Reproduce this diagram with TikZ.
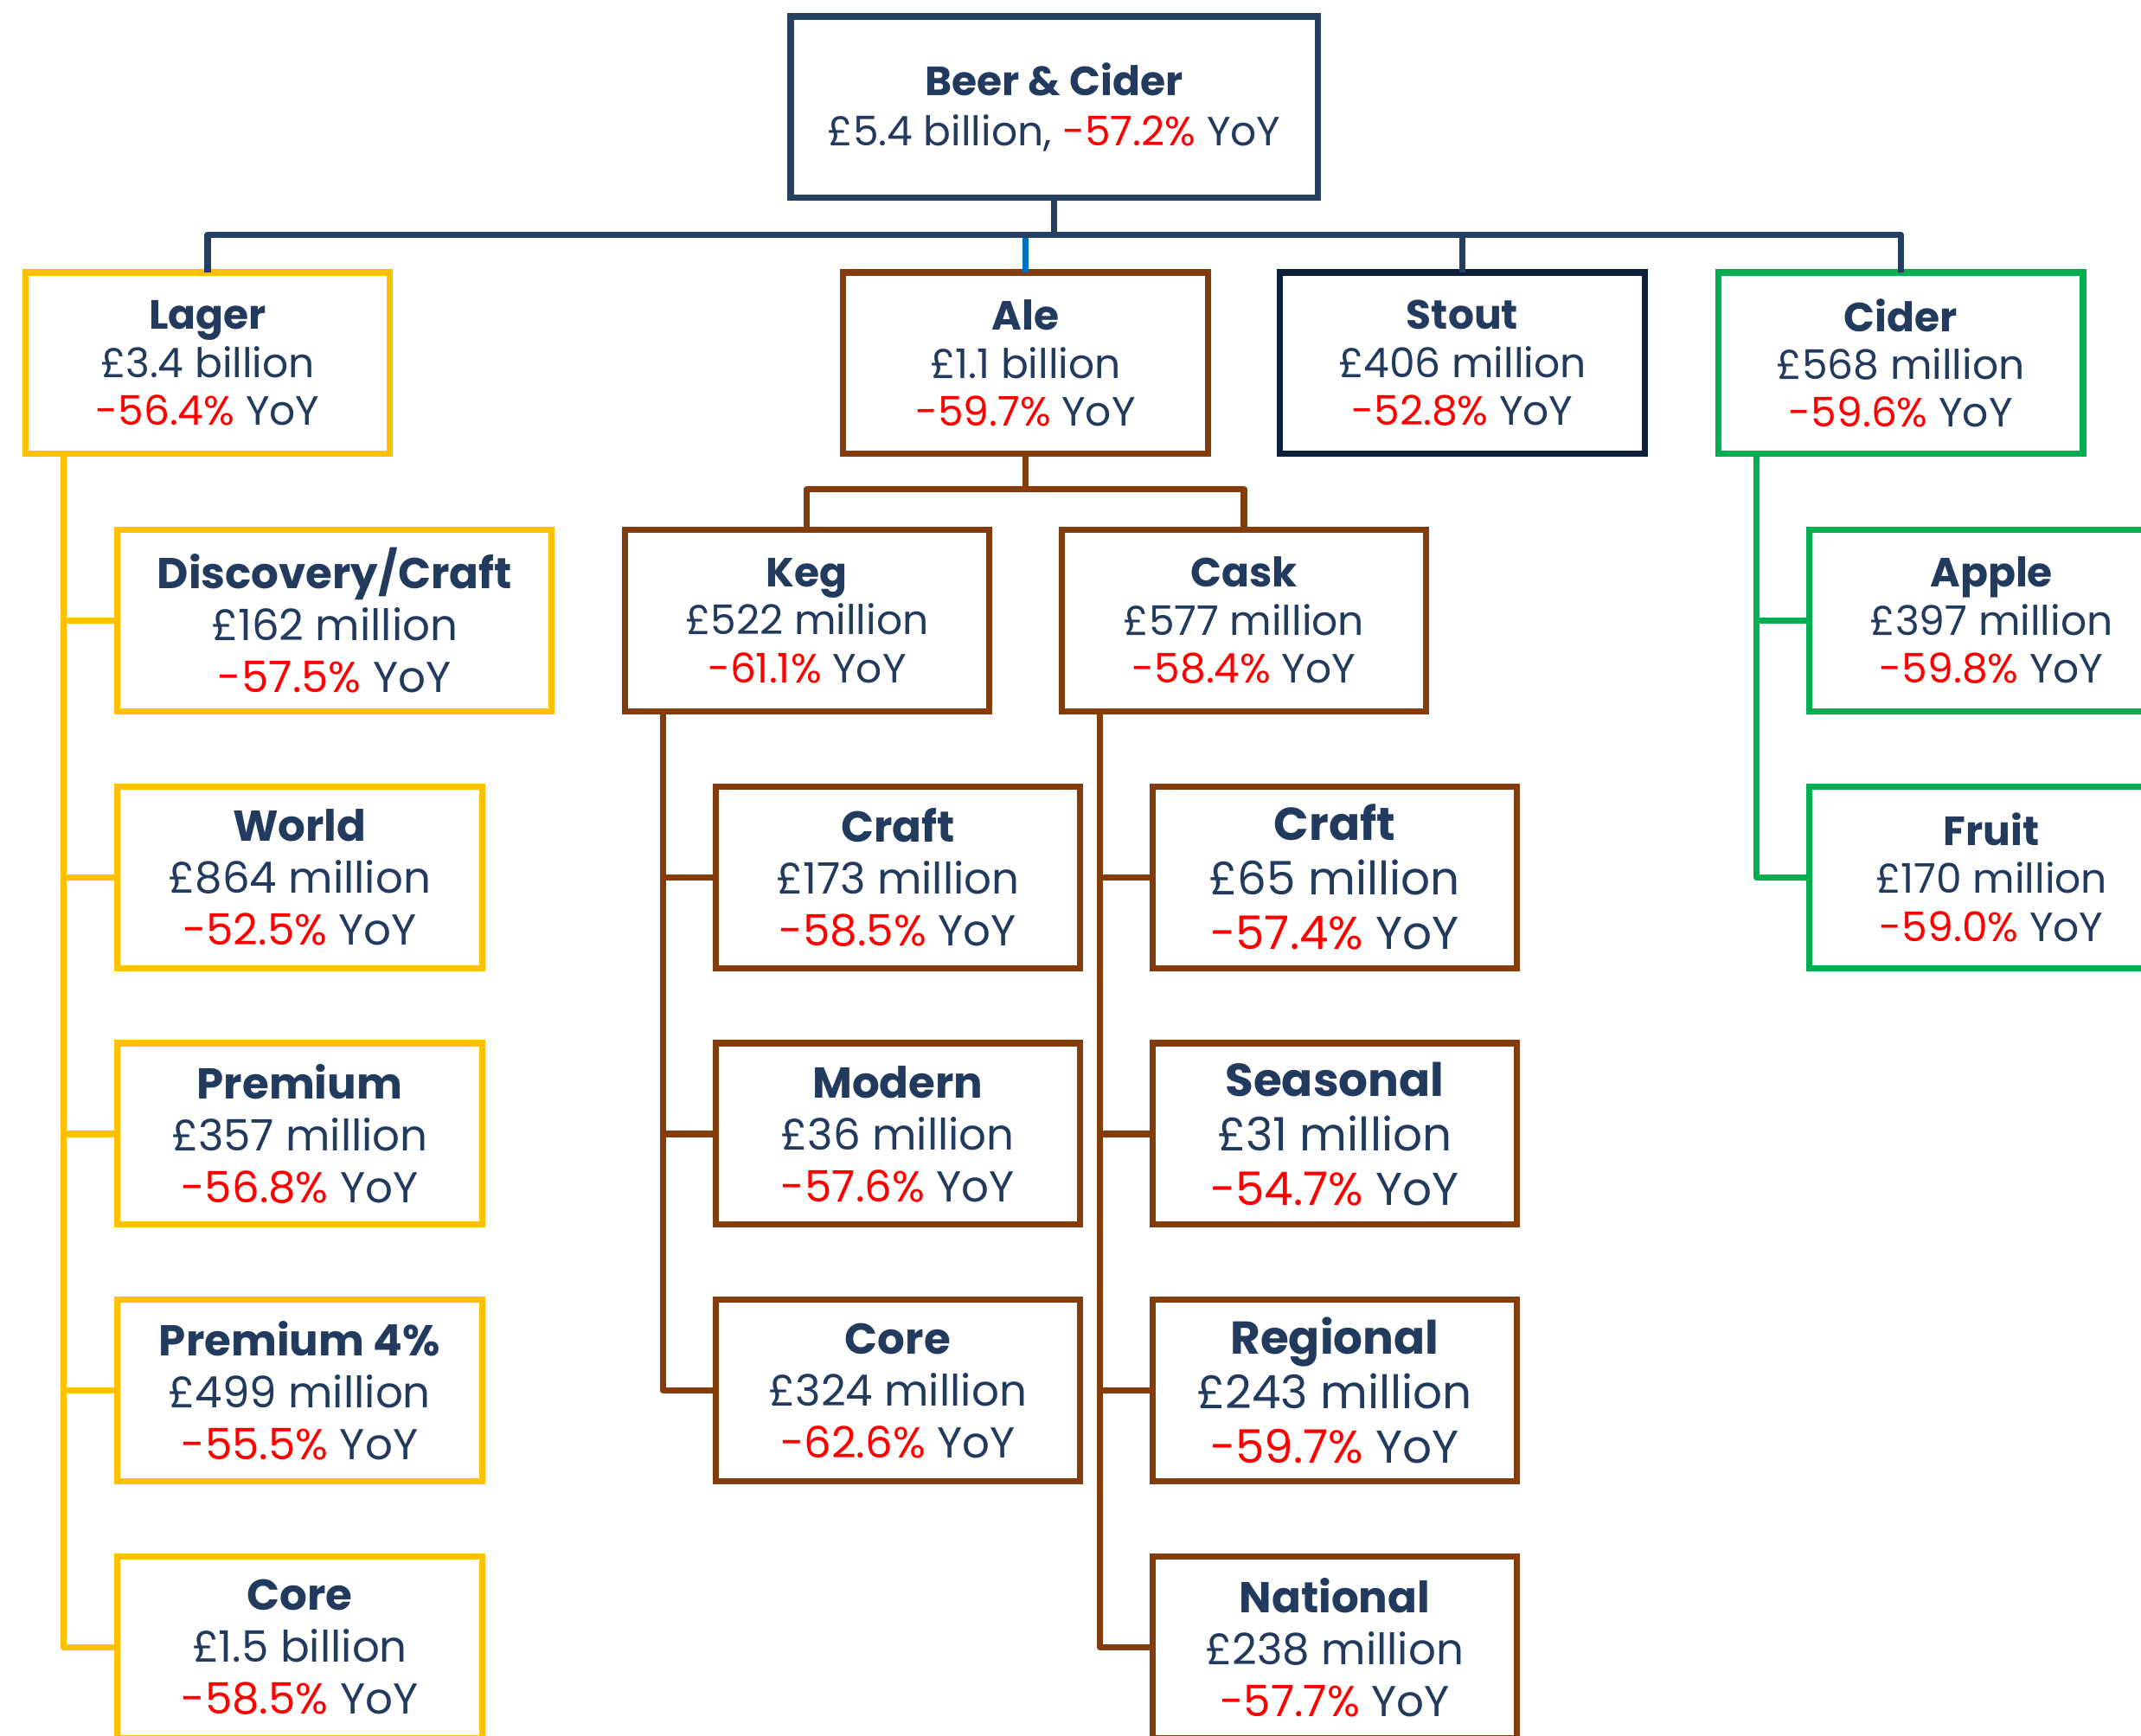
\documentclass[tikz,border=0pt]{standalone}
\usepackage{fontspec}
\setmainfont{Poppins}
\usetikzlibrary{positioning}

\definecolor{inkblue}{HTML}{223A5E}
\definecolor{rootline}{HTML}{243F60}
\definecolor{lagergold}{HTML}{FFC000}
\definecolor{alebrown}{HTML}{843C0C}
\definecolor{stoutnavy}{HTML}{0C1F3D}
\definecolor{cidergreen}{HTML}{00B050}
\definecolor{yoyred}{HTML}{FF0000}
\definecolor{linkblue}{HTML}{0070C0}

\newcommand{\yoy}[1]{\textcolor{yoyred}{#1\%} YoY}

\begin{document}
\begin{tikzpicture}[
  x=0.1mm, y=-0.1mm,
  node distance=5.5mm,
  card/.style={draw,line width=1.3pt,fill=white,align=center,text=inkblue,
    minimum width=26.7mm,minimum height=13.3mm,inner sep=0pt,outer sep=0pt},
  maincard/.style={card,font=\fontsize{8.5}{10}\selectfont},
  subcard/.style={card,font=\fontsize{9}{10.8}\selectfont},
  caskcard/.style={card,font=\fontsize{9.6}{11.4}\selectfont},
  stack/.style={below=of #1.south west,anchor=north west},
  link/.style={line width=1.3pt,line join=round}
]
  \useasboundingbox (0,0) rectangle (1568,1271);
  \clip (0,0) rectangle (1568,1271);

  % top level
  \node[maincard,draw=rootline,minimum width=38.6mm,font=\fontsize{8.5}{10.5}\selectfont] (root) at (772,78.5)
    {\textbf{Beer \& Cider}\\ £5.4 billion, \yoy{-57.2}};

  % categories
  \node[maincard,draw=lagergold] (lager) at (152,266) {\textbf{Lager}\\ £3.4 billion\\ \yoy{-56.4}};
  \node[maincard,draw=alebrown] (ale) at (751,266) {\textbf{Ale}\\ £1.1 billion\\ \yoy{-59.7}};
  \node[maincard,draw=stoutnavy] (stout) at (1071,266) {\textbf{Stout}\\ £406 million\\ \yoy{-52.8}};
  \node[maincard,draw=cidergreen] (cider) at (1392,266) {\textbf{Cider}\\ £568 million\\ \yoy{-59.6}};

  % lager segments
  \node[subcard,draw=lagergold,minimum width=31.8mm,anchor=north west] (ldisc) at (86,388)
    {\textbf{Discovery/Craft}\\ £162 million\\ \yoy{-57.5}};
  \node[subcard,draw=lagergold,stack=ldisc] (lworld) {\textbf{World}\\ £864 million\\ \yoy{-52.5}};
  \node[subcard,draw=lagergold,stack=lworld] (lprem) {\textbf{Premium}\\ £357 million\\ \yoy{-56.8}};
  \node[subcard,draw=lagergold,stack=lprem] (lprem4) {\textbf{Premium 4\%}\\ £499 million\\ \yoy{-55.5}};
  \node[subcard,draw=lagergold,stack=lprem4] (lcore) {\textbf{Core}\\ £1.5 billion\\ \yoy{-58.5}};

  % ale formats
  \node[maincard,draw=alebrown] (keg) at (591,454.5) {\textbf{Keg}\\ £522 million\\ \yoy{-61.1}};
  \node[maincard,draw=alebrown] (cask) at (911,454.5) {\textbf{Cask}\\ £577 million\\ \yoy{-58.4}};

  \node[subcard,draw=alebrown,anchor=north west] (kcraft) at (524,576) {\textbf{Craft}\\ £173 million\\ \yoy{-58.5}};
  \node[subcard,draw=alebrown,stack=kcraft] (kmodern) {\textbf{Modern}\\ £36 million\\ \yoy{-57.6}};
  \node[subcard,draw=alebrown,stack=kmodern] (kcore) {\textbf{Core}\\ £324 million\\ \yoy{-62.6}};

  \node[caskcard,draw=alebrown,anchor=north west] (ccraft) at (844,576) {\textbf{Craft}\\ £65 million\\ \yoy{-57.4}};
  \node[caskcard,draw=alebrown,stack=ccraft] (cseason) {\textbf{Seasonal}\\ £31 million\\ \yoy{-54.7}};
  \node[caskcard,draw=alebrown,stack=cseason] (cregion) {\textbf{Regional}\\ £243 million\\ \yoy{-59.7}};
  \node[subcard,draw=alebrown,stack=cregion] (cnation) {\textbf{National}\\ £238 million\\ \yoy{-57.7}};

  % cider types
  \node[maincard,draw=cidergreen,anchor=north west] (apple) at (1325,388) {\textbf{Apple}\\ £397 million\\ \yoy{-59.8}};
  \node[maincard,draw=cidergreen,stack=apple] (fruit) {\textbf{Fruit}\\ £170 million\\ \yoy{-59.0}};

  % connectors
  \coordinate (rootbus) at ([yshift=-2.7mm]root.south);
  \draw[link,linkblue] (ale.north) -- (ale.north |- rootbus);
  \draw[link,rootline] (root.south) -- (rootbus);
  \draw[link,rootline] (lager.north) |- (rootbus) -| (cider.north);
  \draw[link,rootline] (stout.north) -- (stout.north |- rootbus);

  \coordinate (alebus) at ([yshift=-2.6mm]ale.south);
  \draw[link,alebrown] (ale.south) -- (alebus);
  \draw[link,alebrown] (keg.north) |- (alebus) -| (cask.north);

  \coordinate (lspine) at ([xshift=2.8mm]lager.south west);
  \draw[link,lagergold] (lspine) |- (lcore.west);
  \foreach \c in {ldisc,lworld,lprem,lprem4}
    \draw[link,lagergold] (lspine |- \c.west) -- (\c.west);

  \coordinate (kspine) at ([xshift=2.8mm]keg.south west);
  \draw[link,alebrown] (kspine) |- (kcore.west);
  \foreach \c in {kcraft,kmodern}
    \draw[link,alebrown] (kspine |- \c.west) -- (\c.west);

  \coordinate (cspine) at ([xshift=2.8mm]cask.south west);
  \draw[link,alebrown] (cspine) |- (cnation.west);
  \foreach \c in {ccraft,cseason,cregion}
    \draw[link,alebrown] (cspine |- \c.west) -- (\c.west);

  \coordinate (gspine) at ([xshift=2.8mm]cider.south west);
  \draw[link,cidergreen] (gspine) |- (fruit.west);
  \draw[link,cidergreen] (gspine |- apple.west) -- (apple.west);
\end{tikzpicture}
\end{document}
